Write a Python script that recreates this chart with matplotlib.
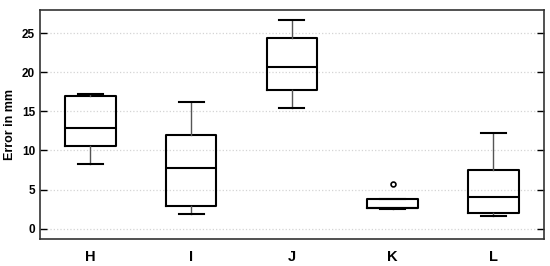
import numpy as np
import matplotlib
matplotlib.use('Agg')
import matplotlib.pyplot as plt

plt.rcParams['font.family'] = ['Liberation Sans', 'DejaVu Sans']
plt.rcParams['font.weight'] = 'bold'

# box statistics (mm)
labels = ['H', 'I', 'J', 'K', 'L']
whislo = [8.3, 1.9, 15.45, 2.5, 1.65]
q1 = [10.6, 2.95, 17.7, 2.6, 1.95]
med = [12.85, 7.8, 20.75, 2.6, 4.0]
q3 = [16.95, 11.95, 24.4, 3.75, 7.55]
whishi = [17.25, 16.25, 26.7, 3.75, 12.2]
fliers = [[], [], [], [5.7], []]

stats = []
for i in range(len(labels)):
    stats.append(dict(label=labels[i], whislo=whislo[i], q1=q1[i], med=med[i],
                      q3=q3[i], whishi=whishi[i], fliers=fliers[i]))

fig = plt.figure(figsize=(5.5, 2.66), dpi=100)
ax = fig.add_axes([0.0727, 0.1026, 0.916, 0.86])

ax.bxp(stats, positions=range(1, 6), widths=0.5, capwidths=0.25,
       boxprops=dict(color='black', linewidth=1.5),
       medianprops=dict(color='black', linewidth=1.5),
       whiskerprops=dict(color='#555555', linewidth=1.0),
       capprops=dict(color='black', linewidth=1.5),
       flierprops=dict(marker='o', markersize=3.5, markerfacecolor='white',
                       markeredgecolor='black', markeredgewidth=1.2))

ax.set_xlim(0.5, 5.5)
ax.set_ylim(-1.3, 28)
ax.set_yticks([0, 5, 10, 15, 20, 25])
ax.yaxis.grid(True, color='#d4d4d4', linestyle=':', linewidth=0.9)
ax.set_axisbelow(True)
ax.tick_params(axis='y', direction='in', length=5, width=1, right=True, labelsize=8.5)
ax.tick_params(axis='x', length=0, labelsize=10.5, pad=8)
ax.set_ylabel('Error in mm', fontsize=9, fontweight='bold')
for s in ax.spines.values():
    s.set_linewidth(1.2)
    s.set_color('#333333')

fig.savefig('out.png', dpi=100)
